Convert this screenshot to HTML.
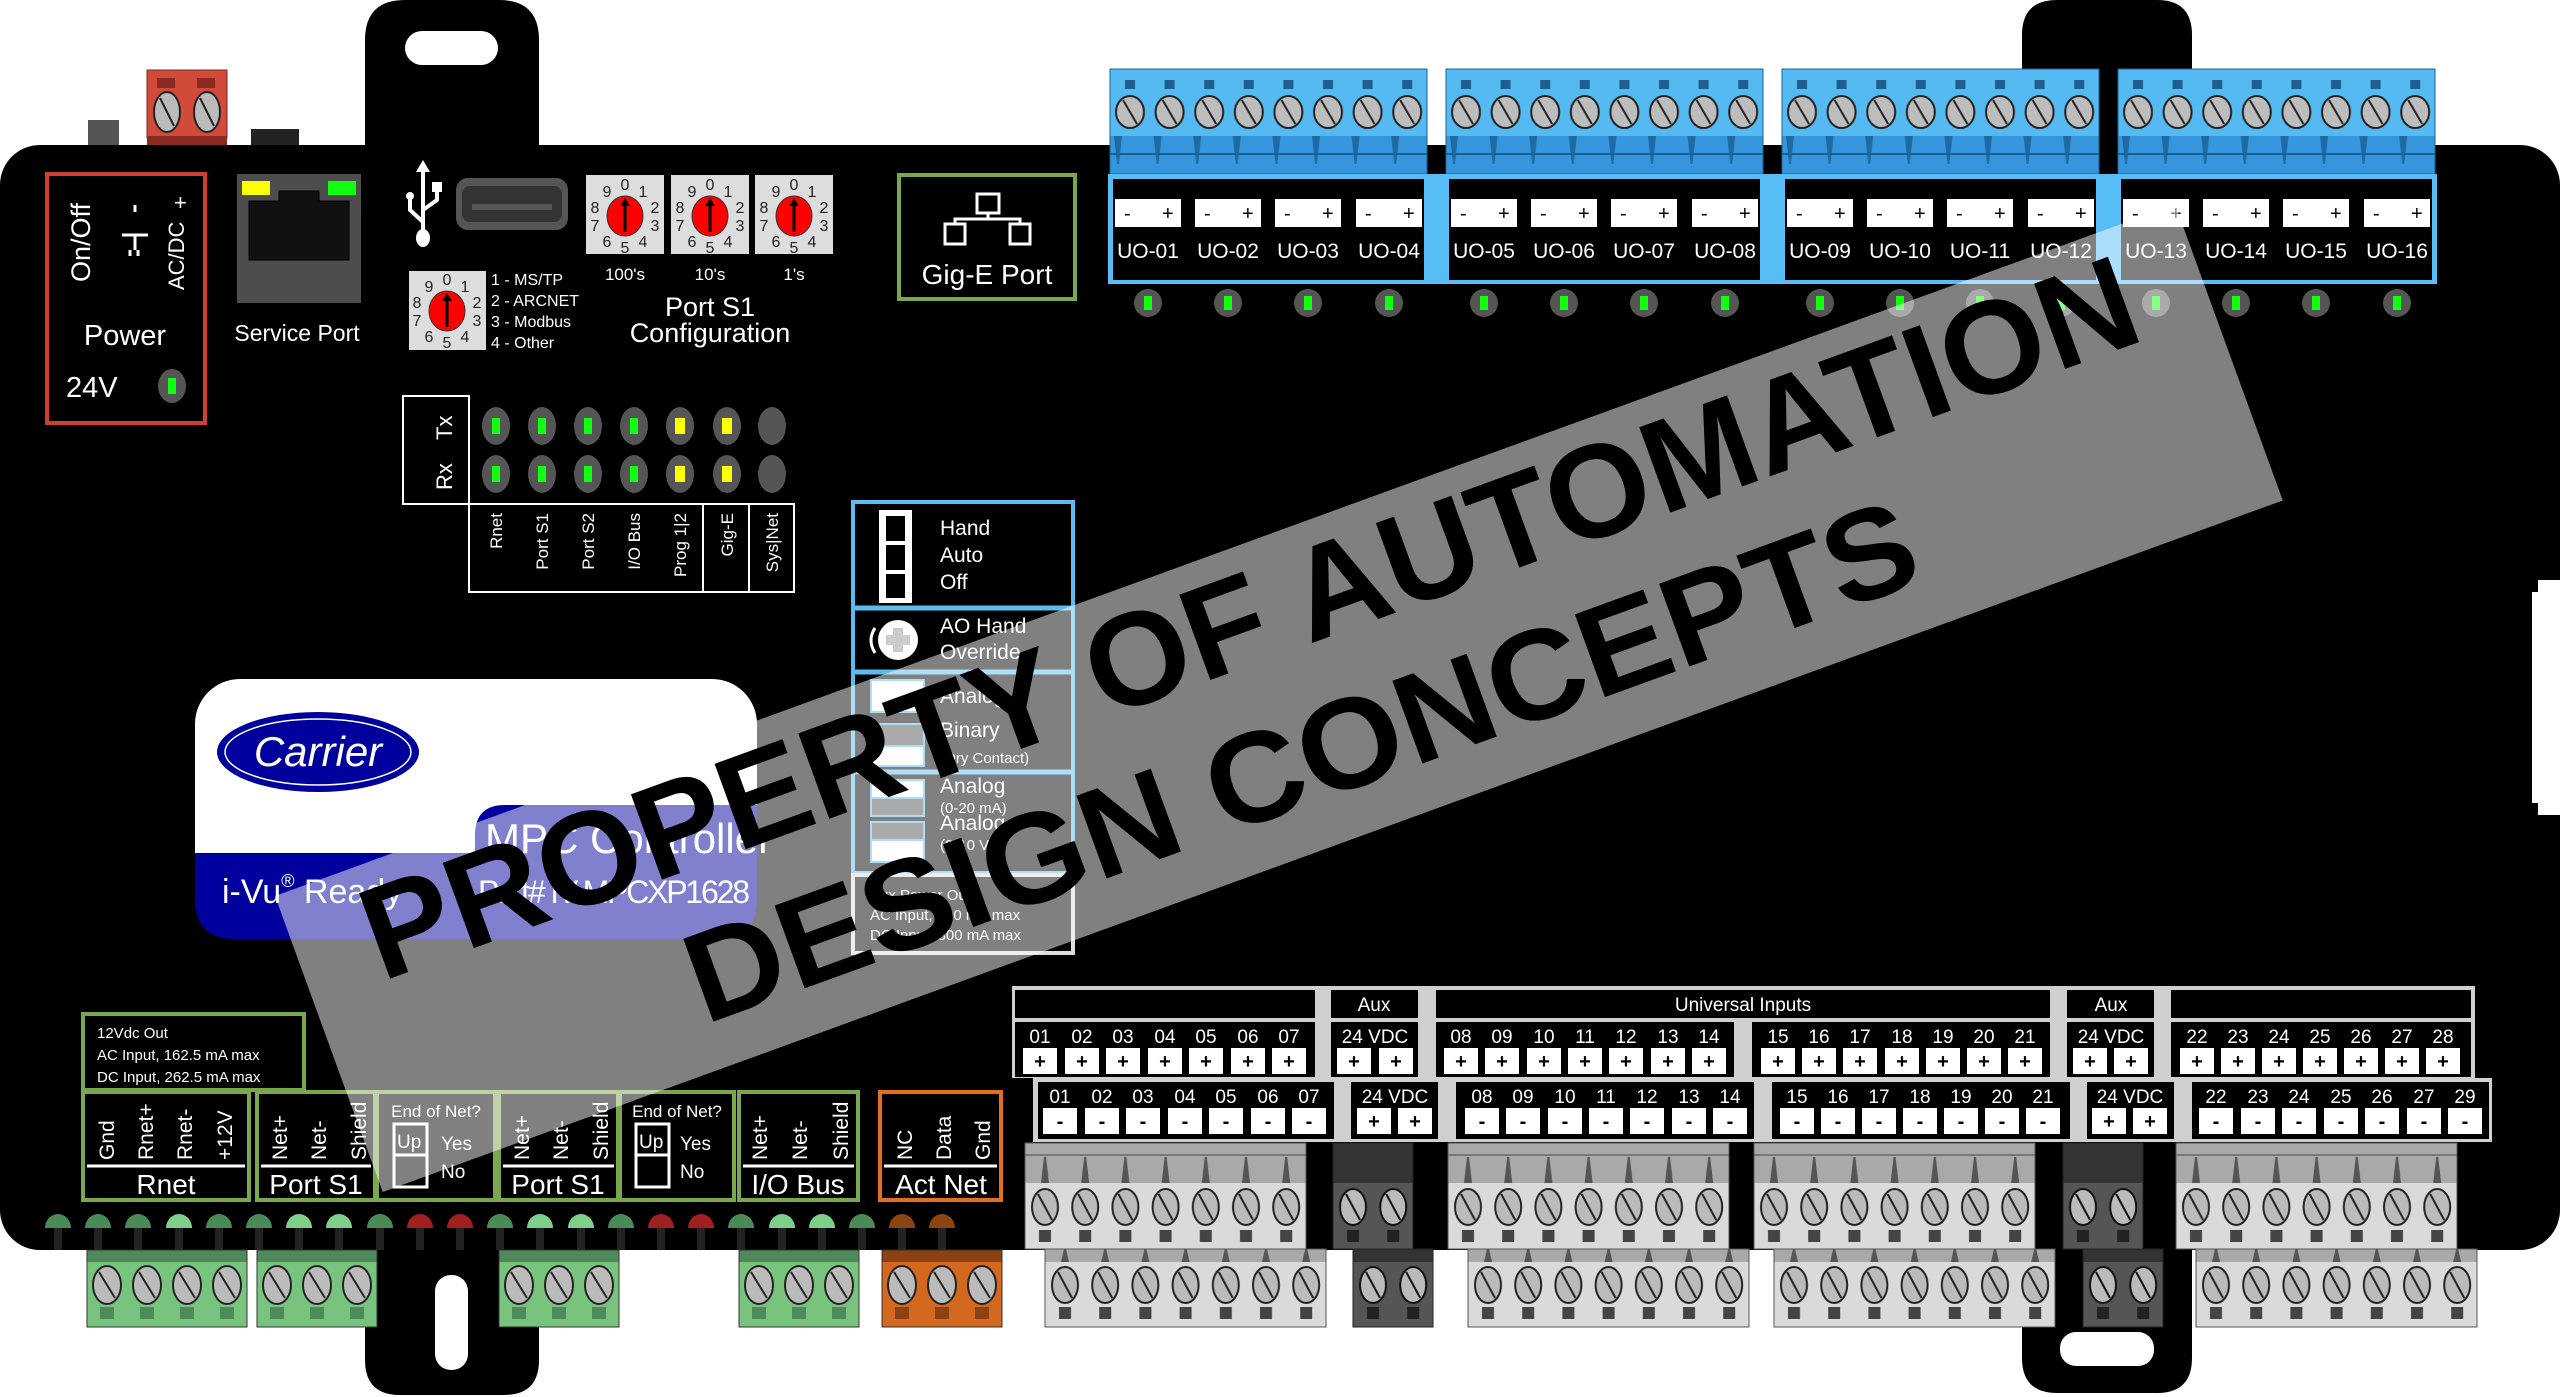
<!DOCTYPE html>
<html><head><meta charset="utf-8"><style>
html,body{margin:0;padding:0;background:#fff;}
svg{display:block;font-family:"Liberation Sans",Arial,sans-serif;}
</style></head><body>
<svg width="2560" height="1397" viewBox="0 0 2560 1397" xmlns="http://www.w3.org/2000/svg">
<defs>
<pattern id="pBlue" patternUnits="userSpaceOnUse" width="39.6" height="105">
<rect x="0" y="0" width="39.6" height="67" fill="#55b9f2"/>
<rect x="15" y="11" width="10" height="9" fill="#1f5f8f"/>
<ellipse cx="20" cy="43" rx="14" ry="16" fill="#bdbdbd" stroke="#222" stroke-width="2"/>
<line x1="13" y1="31" x2="27" y2="55" stroke="#222" stroke-width="2"/>
<rect x="0" y="67" width="39.6" height="38" fill="#3596dd"/>
<path d="M4 67 L12 67 L9 95 L7 95Z" fill="#1e6aa5"/>
<line x1="0" y1="85" x2="39.6" y2="85" stroke="#1e5f90" stroke-width="2"/>
</pattern>
<pattern id="pGU" patternUnits="userSpaceOnUse" width="40.2" height="106">
<rect width="40.2" height="40" fill="#a9a9a9"/>
<path d="M16 40 L24 40 L21 14 L19 14Z" fill="#555"/>
<line x1="0" y1="12" x2="40.2" y2="12" stroke="#777" stroke-width="2"/>
<rect y="40" width="40.2" height="66" fill="#dadada"/>
<ellipse cx="20" cy="64" rx="13" ry="18" fill="#bbb" stroke="#222" stroke-width="2"/>
<line x1="13" y1="51" x2="27" y2="77" stroke="#222" stroke-width="2"/>
<rect x="14" y="87" width="12" height="12" fill="#444"/>
</pattern>
<pattern id="pGL" patternUnits="userSpaceOnUse" width="40.2" height="78">
<rect width="40.2" height="13" fill="#a9a9a9"/>
<path d="M16 13 L24 13 L21 0 L19 0Z" fill="#555"/>
<rect y="13" width="40.2" height="65" fill="#dadada"/>
<ellipse cx="20" cy="36" rx="13" ry="18" fill="#bbb" stroke="#222" stroke-width="2"/>
<line x1="13" y1="23" x2="27" y2="49" stroke="#222" stroke-width="2"/>
<rect x="14" y="58" width="12" height="12" fill="#444"/>
</pattern>
<pattern id="pDU" patternUnits="userSpaceOnUse" width="40.2" height="106">
<rect width="40.2" height="40" fill="#333"/>
<rect y="40" width="40.2" height="66" fill="#555"/>
<ellipse cx="20" cy="64" rx="13" ry="18" fill="#bbb" stroke="#111" stroke-width="2"/>
<line x1="13" y1="51" x2="27" y2="77" stroke="#111" stroke-width="2"/>
<rect x="14" y="87" width="12" height="12" fill="#222"/>
</pattern>
<pattern id="pDL" patternUnits="userSpaceOnUse" width="40.2" height="78">
<rect width="40.2" height="13" fill="#333"/>
<rect y="13" width="40.2" height="65" fill="#555"/>
<ellipse cx="20" cy="36" rx="13" ry="18" fill="#bbb" stroke="#111" stroke-width="2"/>
<line x1="13" y1="23" x2="27" y2="49" stroke="#111" stroke-width="2"/>
<rect x="14" y="58" width="12" height="12" fill="#222"/>
</pattern>
<pattern id="pGreen" patternUnits="userSpaceOnUse" width="40" height="77">
<rect width="40" height="12" fill="#4e8a5a"/>
<rect y="12" width="40" height="65" fill="#78c47f"/>
<ellipse cx="20" cy="35" rx="14" ry="19" fill="#bbb" stroke="#222" stroke-width="2"/>
<line x1="12" y1="22" x2="28" y2="48" stroke="#222" stroke-width="2"/>
<rect x="13" y="57" width="14" height="12" fill="#4e8a5a"/>
</pattern>
<pattern id="pOrange" patternUnits="userSpaceOnUse" width="40" height="77">
<rect width="40" height="12" fill="#8b4210"/>
<rect y="12" width="40" height="65" fill="#d2691e"/>
<ellipse cx="20" cy="35" rx="14" ry="19" fill="#bbb" stroke="#222" stroke-width="2"/>
<line x1="12" y1="22" x2="28" y2="48" stroke="#222" stroke-width="2"/>
<rect x="13" y="57" width="14" height="12" fill="#8b4210"/>
</pattern>
</defs>

<rect width="2560" height="1397" fill="#fff"/>

<!-- tabs -->
<path d="M365,160 V40 Q365,0 405,0 H499 Q539,0 539,40 V160Z" fill="#000"/>
<rect x="405" y="31" width="93" height="34" rx="17" fill="#fff"/>
<path d="M2022,160 V35 Q2022,0 2057,0 H2157 Q2192,0 2192,35 V160Z" fill="#000"/>
<path d="M365,1240 V1360 Q365,1395 400,1395 H504 Q539,1395 539,1360 V1240Z" fill="#000"/>
<rect x="435" y="1275" width="33" height="95" rx="16" fill="#fff"/>
<path d="M2022,1240 V1358 Q2022,1393 2057,1393 H2157 Q2192,1393 2192,1358 V1240Z" fill="#000"/>
<rect x="2060" y="1332" width="94" height="34" rx="16" fill="#fff"/>

<!-- power connector -->
<rect x="88" y="120" width="31" height="26" fill="#555"/>
<rect x="251" y="129" width="48" height="17" fill="#222"/>
<rect x="147" y="70" width="80" height="68" fill="#d24b3a" stroke="#7a2a20" stroke-width="1"/>
<rect x="147" y="136" width="80" height="11" fill="#8a2a22"/>
<rect x="157" y="78" width="18" height="10" fill="#8a2a22"/>
<rect x="197" y="78" width="18" height="10" fill="#8a2a22"/>
<ellipse cx="167" cy="112" rx="13" ry="20" fill="#bbb" stroke="#222" stroke-width="2"/>
<line x1="160" y1="98" x2="174" y2="126" stroke="#222" stroke-width="2"/>
<ellipse cx="207" cy="112" rx="13" ry="20" fill="#bbb" stroke="#222" stroke-width="2"/>
<line x1="200" y1="98" x2="214" y2="126" stroke="#222" stroke-width="2"/>

<!-- body -->
<rect x="0" y="145" width="2560" height="1105" rx="40" fill="#000"/>
<path d="M2538,580 h22 v235 h-22 v-12 h-6 v-211 h6z" fill="#fff"/>

<!-- Power box -->
<rect x="47" y="174" width="158" height="249" fill="none" stroke="#d04030" stroke-width="4"/>
<text transform="translate(90,282) rotate(-90)" fill="#fff" font-size="27">On/Off</text>
<g stroke="#fff" stroke-width="3"><line x1="122" y1="235" x2="148" y2="235"/><line x1="135" y1="235" x2="135" y2="250"/><line x1="130" y1="250" x2="130" y2="256"/><line x1="138" y1="250" x2="138" y2="256"/></g>
<line x1="135" y1="205" x2="135" y2="212" stroke="#fff" stroke-width="3"/>
<text transform="translate(184,290) rotate(-90)" fill="#fff" font-size="22">AC/DC</text>
<text x="174" y="210" fill="#fff" font-size="22">+</text>
<text x="125" y="345" fill="#fff" font-size="29" text-anchor="middle">Power</text>
<text x="66" y="397" fill="#fff" font-size="29">24V</text>
<ellipse cx="172" cy="386" rx="14" ry="17" fill="#555"/>
<rect x="168" y="378" width="8" height="16" fill="#1f1"/>

<!-- Service port -->
<rect x="237" y="174" width="124" height="129" fill="#4d4d4d"/>
<path d="M249,201 h30 v-10 h40 v10 h30 v59 h-100z" fill="#111" stroke="#000"/>
<rect x="242" y="181" width="28" height="14" fill="#ff0"/>
<rect x="328" y="181" width="28" height="14" fill="#1f1"/>
<text x="297" y="341" fill="#fff" font-size="23" text-anchor="middle">Service Port</text>

<!-- USB -->
<g stroke="#fff" stroke-width="4" fill="none">
<line x1="423" y1="172" x2="423" y2="230"/>
<polyline points="423,222 410,210 410,196"/>
<polyline points="423,210 437,200 437,192"/>
</g>
<path d="M423,160 l-7,12 h14z" fill="#fff"/>
<circle cx="410" cy="196" r="4" fill="#fff"/>
<rect x="432" y="182" width="10" height="10" fill="#fff"/>
<ellipse cx="423" cy="238" rx="7" ry="9" fill="#fff"/>
<rect x="456" y="178" width="112" height="52" rx="12" fill="#555"/>
<rect x="462" y="186" width="100" height="36" rx="8" fill="#333"/>
<rect x="472" y="204" width="80" height="6" fill="#555"/>

<!-- Rotary switches -->
<g font-size="16" fill="#222" text-anchor="middle">
<rect x="586" y="175" width="78" height="79" fill="#ddd"/>
<rect x="671" y="175" width="78" height="79" fill="#ddd"/>
<rect x="755" y="175" width="78" height="79" fill="#ddd"/>
<rect x="409" y="271" width="77" height="79" fill="#ddd"/>
<g transform="translate(625,216)"><ellipse rx="18" ry="20" fill="#f00" stroke="#333"/><line x1="0" y1="16" x2="0" y2="-12" stroke="#000" stroke-width="3"/><path d="M0,-18 l-5,8 h10z" fill="#000"/>
<text x="0" y="-26">0</text><text x="18" y="-19">1</text><text x="30" y="-3">2</text><text x="30" y="15">3</text><text x="18" y="31">4</text><text x="0" y="37">5</text><text x="-18" y="31">6</text><text x="-30" y="15">7</text><text x="-30" y="-3">8</text><text x="-18" y="-19">9</text></g>
<g transform="translate(710,216)"><ellipse rx="18" ry="20" fill="#f00" stroke="#333"/><line x1="0" y1="16" x2="0" y2="-12" stroke="#000" stroke-width="3"/><path d="M0,-18 l-5,8 h10z" fill="#000"/>
<text x="0" y="-26">0</text><text x="18" y="-19">1</text><text x="30" y="-3">2</text><text x="30" y="15">3</text><text x="18" y="31">4</text><text x="0" y="37">5</text><text x="-18" y="31">6</text><text x="-30" y="15">7</text><text x="-30" y="-3">8</text><text x="-18" y="-19">9</text></g>
<g transform="translate(794,216)"><ellipse rx="18" ry="20" fill="#f00" stroke="#333"/><line x1="0" y1="16" x2="0" y2="-12" stroke="#000" stroke-width="3"/><path d="M0,-18 l-5,8 h10z" fill="#000"/>
<text x="0" y="-26">0</text><text x="18" y="-19">1</text><text x="30" y="-3">2</text><text x="30" y="15">3</text><text x="18" y="31">4</text><text x="0" y="37">5</text><text x="-18" y="31">6</text><text x="-30" y="15">7</text><text x="-30" y="-3">8</text><text x="-18" y="-19">9</text></g>
<g transform="translate(447,311)"><ellipse rx="18" ry="20" fill="#f00" stroke="#333"/><line x1="0" y1="16" x2="0" y2="-12" stroke="#000" stroke-width="3"/><path d="M0,-18 l-5,8 h10z" fill="#000"/>
<text x="0" y="-26">0</text><text x="18" y="-19">1</text><text x="30" y="-3">2</text><text x="30" y="15">3</text><text x="18" y="31">4</text><text x="0" y="37">5</text><text x="-18" y="31">6</text><text x="-30" y="15">7</text><text x="-30" y="-3">8</text><text x="-18" y="-19">9</text></g>
</g>
<g fill="#fff">
<text x="625" y="280" font-size="17" text-anchor="middle">100's</text>
<text x="710" y="280" font-size="17" text-anchor="middle">10's</text>
<text x="794" y="280" font-size="17" text-anchor="middle">1's</text>
<text x="710" y="316" font-size="27" text-anchor="middle">Port S1</text>
<text x="710" y="342" font-size="27" text-anchor="middle">Configuration</text>
<text x="491" y="285" font-size="16">1 - MS/TP</text>
<text x="491" y="306" font-size="16">2 - ARCNET</text>
<text x="491" y="327" font-size="16">3 - Modbus</text>
<text x="491" y="348" font-size="16">4 - Other</text>
</g>

<!-- Gig-E -->
<rect x="899" y="175" width="176" height="124" fill="none" stroke="#7aa64e" stroke-width="4"/>
<g stroke="#fff" stroke-width="3" fill="none">
<rect x="977" y="194" width="22" height="19"/>
<rect x="945" y="224" width="20" height="20"/>
<rect x="1010" y="224" width="20" height="20"/>
<polyline points="988,213 988,219 955,219 955,224"/>
<polyline points="988,219 1020,219 1020,224"/>
</g>
<text x="987" y="284" fill="#fff" font-size="28" text-anchor="middle">Gig-E Port</text>

<!-- LED status panel -->
<rect x="403" y="396" width="66" height="108" fill="none" stroke="#fff" stroke-width="2"/>
<path d="M469,504 H794 V592 H469 Z M703,504 V592 M749,504 V592" fill="none" stroke="#fff" stroke-width="2"/>
<text transform="translate(452,440) rotate(-90)" fill="#fff" font-size="22">Tx</text>
<text transform="translate(452,490) rotate(-90)" fill="#fff" font-size="22">Rx</text>
<g>
<ellipse cx="496" cy="426" rx="14" ry="19" fill="#555"/><ellipse cx="542" cy="426" rx="14" ry="19" fill="#555"/><ellipse cx="588" cy="426" rx="14" ry="19" fill="#555"/><ellipse cx="634" cy="426" rx="14" ry="19" fill="#555"/><ellipse cx="680" cy="426" rx="14" ry="19" fill="#555"/><ellipse cx="727" cy="426" rx="14" ry="19" fill="#555"/><ellipse cx="772" cy="426" rx="14" ry="19" fill="#555"/>
<ellipse cx="496" cy="474" rx="14" ry="19" fill="#555"/><ellipse cx="542" cy="474" rx="14" ry="19" fill="#555"/><ellipse cx="588" cy="474" rx="14" ry="19" fill="#555"/><ellipse cx="634" cy="474" rx="14" ry="19" fill="#555"/><ellipse cx="680" cy="474" rx="14" ry="19" fill="#555"/><ellipse cx="727" cy="474" rx="14" ry="19" fill="#555"/><ellipse cx="772" cy="474" rx="14" ry="19" fill="#555"/>
<g fill="#1f1"><rect x="492" y="418" width="8" height="16"/><rect x="538" y="418" width="8" height="16"/><rect x="584" y="418" width="8" height="16"/><rect x="630" y="418" width="8" height="16"/>
<rect x="492" y="466" width="8" height="16"/><rect x="538" y="466" width="8" height="16"/><rect x="584" y="466" width="8" height="16"/><rect x="630" y="466" width="8" height="16"/></g>
<g fill="#ff0"><rect x="675" y="418" width="10" height="16"/><rect x="722" y="418" width="10" height="16"/><rect x="675" y="466" width="10" height="16"/><rect x="722" y="466" width="10" height="16"/></g>
</g>
<g fill="#fff" font-size="17" text-anchor="end">
<text transform="translate(502,513) rotate(-90)">Rnet</text>
<text transform="translate(548,513) rotate(-90)">Port S1</text>
<text transform="translate(594,513) rotate(-90)">Port S2</text>
<text transform="translate(640,513) rotate(-90)">I/O Bus</text>
<text transform="translate(686,513) rotate(-90)">Prog 1|2</text>
<text transform="translate(733,513) rotate(-90)">Gig-E</text>
<text transform="translate(778,513) rotate(-90)">Sys|Net</text>
</g>

<!-- Mode panel -->
<rect x="853" y="502" width="220" height="371" fill="none" stroke="#5bbcf0" stroke-width="4"/>
<line x1="853" y1="608" x2="1073" y2="608" stroke="#5bbcf0" stroke-width="5"/>
<line x1="853" y1="672" x2="1073" y2="672" stroke="#5bbcf0" stroke-width="5"/>
<line x1="853" y1="772" x2="1073" y2="772" stroke="#5bbcf0" stroke-width="5"/>
<rect x="879" y="510" width="33" height="93" fill="#fff"/>
<rect x="886" y="516" width="19" height="25" fill="#000"/><rect x="886" y="545" width="19" height="25" fill="#000"/><rect x="886" y="574" width="19" height="24" fill="#000"/>
<g fill="#fff" font-size="21">
<text x="940" y="535">Hand</text><text x="940" y="562">Auto</text><text x="940" y="589">Off</text>
<text x="940" y="633">AO Hand</text><text x="940" y="659">Override</text>
<text x="940" y="703">Analog</text><text x="940" y="737">Binary</text>
<text x="940" y="793">Analog</text><text x="940" y="830">Analog</text>
</g>
<g fill="#fff" font-size="15"><text x="940" y="763">(Dry Contact)</text><text x="940" y="813">(0-20 mA)</text><text x="940" y="850">(0-10 V)</text></g>
<circle cx="898" cy="640" r="20" fill="#fff"/>
<path d="M893,628 h10 v7 h7 v10 h-7 v7 h-10 v-7 h-7 v-10 h7z" fill="#ccc"/>
<path d="M875,628 q-8,12 0,25" stroke="#fff" stroke-width="3" fill="none"/>
<rect x="871" y="680" width="53" height="32" fill="#fff" stroke="#5bbcf0" stroke-width="2"/>
<rect x="871" y="724" width="53" height="22" fill="#555" stroke="#5bbcf0" stroke-width="2"/>
<rect x="871" y="746" width="53" height="20" fill="#fff" stroke="#5bbcf0" stroke-width="2"/>
<rect x="871" y="780" width="53" height="18" fill="#fff" stroke="#5bbcf0" stroke-width="2"/>
<rect x="871" y="798" width="53" height="18" fill="#555" stroke="#5bbcf0" stroke-width="2"/>
<rect x="871" y="822" width="53" height="18" fill="#555" stroke="#5bbcf0" stroke-width="2"/>
<rect x="871" y="840" width="53" height="22" fill="#fff" stroke="#5bbcf0" stroke-width="2"/>
<rect x="853" y="875" width="220" height="78" fill="none" stroke="#ddd" stroke-width="4"/>
<g fill="#fff" font-size="15"><text x="870" y="900">Aux Power Out</text><text x="870" y="920">AC Input, 300 mA max</text><text x="870" y="940">DC Input, 300 mA max</text></g>

<!-- Carrier label -->
<rect x="195" y="679" width="562" height="260" rx="45" fill="#fff"/>
<path d="M195,853 H475 V835 Q475,805 505,805 H757 V899 Q757,939 717,939 H235 Q195,939 195,899 Z" fill="#00009c"/>
<ellipse cx="318" cy="752" rx="101" ry="40" fill="#00009c"/>
<ellipse cx="318" cy="752" rx="93" ry="33" fill="none" stroke="#fff" stroke-width="1.5"/>
<text x="318" y="766" fill="#fff" font-size="42" font-style="italic" text-anchor="middle">Carrier</text>
<text x="485" y="853" fill="#fff" font-size="42">MPC Controller</text>
<text x="222" y="903" fill="#fff" font-size="34">i-Vu<tspan font-size="18" dy="-16">®</tspan><tspan dy="16"> Ready</tspan></text>
<text x="478" y="903" fill="#fff" font-size="32" textLength="272">Part# IV-MPCXP1628</text>

<!-- Info box -->
<rect x="83" y="1014" width="221" height="76" fill="none" stroke="#7aa64e" stroke-width="4"/>
<g fill="#fff" font-size="15"><text x="97" y="1038">12Vdc Out</text><text x="97" y="1060">AC Input, 162.5 mA max</text><text x="97" y="1082">DC Input, 262.5 mA max</text></g>

<!-- bottom label boxes -->
<g fill="#000" stroke="#7aa64e" stroke-width="4">
<rect x="83" y="1092" width="166" height="108"/>
<rect x="257" y="1092" width="118" height="108"/>
<rect x="377" y="1092" width="118" height="108"/>
<rect x="499" y="1092" width="119" height="108"/>
<rect x="620" y="1092" width="114" height="108"/>
<rect x="739" y="1092" width="119" height="108"/>
</g>
<rect x="880" y="1092" width="121" height="108" fill="#000" stroke="#e07020" stroke-width="4"/>
<g stroke="#fff" stroke-width="3">
<line x1="87" y1="1166" x2="245" y2="1166"/><line x1="261" y1="1166" x2="371" y2="1166"/><line x1="503" y1="1166" x2="614" y2="1166"/><line x1="743" y1="1166" x2="854" y2="1166"/><line x1="884" y1="1166" x2="997" y2="1166"/>
</g>
<g fill="#fff" font-size="21">
<text transform="translate(114,1160) rotate(-90)">Gnd</text>
<text transform="translate(153,1160) rotate(-90)">Rnet+</text>
<text transform="translate(192,1160) rotate(-90)">Rnet-</text>
<text transform="translate(232,1160) rotate(-90)">+12V</text>
<text transform="translate(287,1160) rotate(-90)">Net+</text>
<text transform="translate(326,1160) rotate(-90)">Net-</text>
<text transform="translate(366,1160) rotate(-90)">Shield</text>
<text transform="translate(529,1160) rotate(-90)">Net+</text>
<text transform="translate(568,1160) rotate(-90)">Net-</text>
<text transform="translate(608,1160) rotate(-90)">Shield</text>
<text transform="translate(767,1160) rotate(-90)">Net+</text>
<text transform="translate(807,1160) rotate(-90)">Net-</text>
<text transform="translate(848,1160) rotate(-90)">Shield</text>
<text transform="translate(912,1160) rotate(-90)">NC</text>
<text transform="translate(951,1160) rotate(-90)">Data</text>
<text transform="translate(990,1160) rotate(-90)">Gnd</text>
</g>
<g fill="#fff" font-size="28" text-anchor="middle">
<text x="166" y="1194">Rnet</text><text x="316" y="1194">Port S1</text><text x="558" y="1194">Port S1</text><text x="798" y="1194">I/O Bus</text><text x="941" y="1194">Act Net</text>
</g>
<g fill="#fff" font-size="17"><text x="436" y="1117" text-anchor="middle">End of Net?</text><text x="677" y="1117" text-anchor="middle">End of Net?</text>
<text x="441" y="1150" font-size="19">Yes</text><text x="441" y="1178" font-size="19">No</text>
<text x="680" y="1150" font-size="19">Yes</text><text x="680" y="1178" font-size="19">No</text></g>
<g fill="none" stroke="#fff" stroke-width="3"><rect x="394" y="1124" width="33" height="63"/><line x1="394" y1="1155" x2="427" y2="1155"/><rect x="636" y="1124" width="33" height="63"/><line x1="636" y1="1155" x2="669" y2="1155"/></g>
<g fill="#fff" font-size="19"><text x="397" y="1148">Up</text><text x="639" y="1148">Up</text></g>

<!-- bottom LEDs -->
<g fill="#222">
<rect x="54" y="1226" width="8" height="24"/><rect x="94" y="1226" width="8" height="24"/><rect x="134" y="1226" width="8" height="24"/><rect x="175" y="1226" width="8" height="24"/><rect x="215" y="1226" width="8" height="24"/><rect x="255" y="1226" width="8" height="24"/><rect x="295" y="1226" width="8" height="24"/><rect x="335" y="1226" width="8" height="24"/><rect x="376" y="1226" width="8" height="24"/><rect x="416" y="1226" width="8" height="24"/><rect x="456" y="1226" width="8" height="24"/><rect x="496" y="1226" width="8" height="24"/><rect x="536" y="1226" width="8" height="24"/><rect x="577" y="1226" width="8" height="24"/><rect x="617" y="1226" width="8" height="24"/><rect x="657" y="1226" width="8" height="24"/><rect x="697" y="1226" width="8" height="24"/><rect x="737" y="1226" width="8" height="24"/><rect x="778" y="1226" width="8" height="24"/><rect x="818" y="1226" width="8" height="24"/><rect x="858" y="1226" width="8" height="24"/><rect x="898" y="1226" width="8" height="24"/><rect x="938" y="1226" width="8" height="24"/>
</g>
<g>
<path d="M45,1228 a13,14 0 0 1 26,0z" fill="#4a8a57"/><path d="M85,1228 a13,14 0 0 1 26,0z" fill="#4a8a57"/><path d="M125,1228 a13,14 0 0 1 26,0z" fill="#4a8a57"/><path d="M166,1228 a13,14 0 0 1 26,0z" fill="#7dcf8a"/><path d="M206,1228 a13,14 0 0 1 26,0z" fill="#4a8a57"/><path d="M246,1228 a13,14 0 0 1 26,0z" fill="#4a8a57"/><path d="M286,1228 a13,14 0 0 1 26,0z" fill="#7dcf8a"/><path d="M326,1228 a13,14 0 0 1 26,0z" fill="#7dcf8a"/><path d="M367,1228 a13,14 0 0 1 26,0z" fill="#4a8a57"/><path d="M407,1228 a13,14 0 0 1 26,0z" fill="#a01f1f"/><path d="M447,1228 a13,14 0 0 1 26,0z" fill="#a01f1f"/><path d="M487,1228 a13,14 0 0 1 26,0z" fill="#4a8a57"/><path d="M527,1228 a13,14 0 0 1 26,0z" fill="#7dcf8a"/><path d="M568,1228 a13,14 0 0 1 26,0z" fill="#7dcf8a"/><path d="M608,1228 a13,14 0 0 1 26,0z" fill="#4a8a57"/><path d="M648,1228 a13,14 0 0 1 26,0z" fill="#a01f1f"/><path d="M688,1228 a13,14 0 0 1 26,0z" fill="#a01f1f"/><path d="M728,1228 a13,14 0 0 1 26,0z" fill="#4a8a57"/><path d="M769,1228 a13,14 0 0 1 26,0z" fill="#7dcf8a"/><path d="M809,1228 a13,14 0 0 1 26,0z" fill="#7dcf8a"/><path d="M849,1228 a13,14 0 0 1 26,0z" fill="#4a8a57"/><path d="M889,1228 a13,14 0 0 1 26,0z" fill="#8b4513"/><path d="M929,1228 a13,14 0 0 1 26,0z" fill="#8b4513"/>
</g>

<!-- bottom green / orange connectors -->
<g transform="translate(87,1250)"><rect width="160" height="77" fill="url(#pGreen)" stroke="#333"/></g>
<g transform="translate(257,1250)"><rect width="120" height="77" fill="url(#pGreen)" stroke="#333"/></g>
<g transform="translate(499,1250)"><rect width="120" height="77" fill="url(#pGreen)" stroke="#333"/></g>
<g transform="translate(739,1250)"><rect width="120" height="77" fill="url(#pGreen)" stroke="#333"/></g>
<g transform="translate(882,1250)"><rect width="120" height="77" fill="url(#pOrange)" stroke="#333"/></g>

<!-- top blue UO terminal blocks -->
<g transform="translate(1110,69)"><rect width="317" height="105" fill="url(#pBlue)" stroke="#1e5f90"/></g>
<g transform="translate(1446,69)"><rect width="317" height="105" fill="url(#pBlue)" stroke="#1e5f90"/></g>
<g transform="translate(1782,69)"><rect width="317" height="105" fill="url(#pBlue)" stroke="#1e5f90"/></g>
<g transform="translate(2118,69)"><rect width="317" height="105" fill="url(#pBlue)" stroke="#1e5f90"/></g>
<rect x="1108" y="174" width="1329" height="110" fill="#56bdf5"/>
<rect x="1113" y="179" width="311" height="101" fill="#000"/>
<rect x="1449" y="179" width="311" height="101" fill="#000"/>
<rect x="1785" y="179" width="311" height="101" fill="#000"/>
<rect x="2121" y="179" width="311" height="101" fill="#000"/>
<g fill="#fff">
<rect x="1115" y="199" width="66" height="28"/><rect x="1195" y="199" width="66" height="28"/><rect x="1275" y="199" width="66" height="28"/><rect x="1356" y="199" width="66" height="28"/>
<rect x="1451" y="199" width="66" height="28"/><rect x="1531" y="199" width="66" height="28"/><rect x="1611" y="199" width="66" height="28"/><rect x="1692" y="199" width="66" height="28"/>
<rect x="1787" y="199" width="66" height="28"/><rect x="1867" y="199" width="66" height="28"/><rect x="1947" y="199" width="66" height="28"/><rect x="2028" y="199" width="66" height="28"/>
<rect x="2123" y="199" width="66" height="28"/><rect x="2203" y="199" width="66" height="28"/><rect x="2283" y="199" width="66" height="28"/><rect x="2364" y="199" width="66" height="28"/>
</g>
<g font-size="20" fill="#000">
<text x="1124" y="220">-</text><text x="1162" y="220">+</text><text x="1204" y="220">-</text><text x="1242" y="220">+</text><text x="1284" y="220">-</text><text x="1322" y="220">+</text><text x="1365" y="220">-</text><text x="1403" y="220">+</text>
<text x="1460" y="220">-</text><text x="1498" y="220">+</text><text x="1540" y="220">-</text><text x="1578" y="220">+</text><text x="1620" y="220">-</text><text x="1658" y="220">+</text><text x="1701" y="220">-</text><text x="1739" y="220">+</text>
<text x="1796" y="220">-</text><text x="1834" y="220">+</text><text x="1876" y="220">-</text><text x="1914" y="220">+</text><text x="1956" y="220">-</text><text x="1994" y="220">+</text><text x="2037" y="220">-</text><text x="2075" y="220">+</text>
<text x="2132" y="220">-</text><text x="2170" y="220">+</text><text x="2212" y="220">-</text><text x="2250" y="220">+</text><text x="2292" y="220">-</text><text x="2330" y="220">+</text><text x="2373" y="220">-</text><text x="2411" y="220">+</text>
</g>
<g font-size="21" fill="#fff" text-anchor="middle">
<text x="1148" y="258">UO-01</text><text x="1228" y="258">UO-02</text><text x="1308" y="258">UO-03</text><text x="1389" y="258">UO-04</text>
<text x="1484" y="258">UO-05</text><text x="1564" y="258">UO-06</text><text x="1644" y="258">UO-07</text><text x="1725" y="258">UO-08</text>
<text x="1820" y="258">UO-09</text><text x="1900" y="258">UO-10</text><text x="1980" y="258">UO-11</text><text x="2061" y="258">UO-12</text>
<text x="2156" y="258">UO-13</text><text x="2236" y="258">UO-14</text><text x="2316" y="258">UO-15</text><text x="2397" y="258">UO-16</text>
</g>
<g fill="#555">
<ellipse cx="1148" cy="303" rx="14" ry="14"/><ellipse cx="1228" cy="303" rx="14" ry="14"/><ellipse cx="1308" cy="303" rx="14" ry="14"/><ellipse cx="1389" cy="303" rx="14" ry="14"/>
<ellipse cx="1484" cy="303" rx="14" ry="14"/><ellipse cx="1564" cy="303" rx="14" ry="14"/><ellipse cx="1644" cy="303" rx="14" ry="14"/><ellipse cx="1725" cy="303" rx="14" ry="14"/>
<ellipse cx="1820" cy="303" rx="14" ry="14"/><ellipse cx="1900" cy="303" rx="14" ry="14"/><ellipse cx="1980" cy="303" rx="14" ry="14"/><ellipse cx="2061" cy="303" rx="14" ry="14"/>
<ellipse cx="2156" cy="303" rx="14" ry="14"/><ellipse cx="2236" cy="303" rx="14" ry="14"/><ellipse cx="2316" cy="303" rx="14" ry="14"/><ellipse cx="2397" cy="303" rx="14" ry="14"/>
</g>
<g fill="#1f1">
<rect x="1144" y="296" width="8" height="14"/><rect x="1224" y="296" width="8" height="14"/><rect x="1304" y="296" width="8" height="14"/><rect x="1385" y="296" width="8" height="14"/>
<rect x="1480" y="296" width="8" height="14"/><rect x="1560" y="296" width="8" height="14"/><rect x="1640" y="296" width="8" height="14"/><rect x="1721" y="296" width="8" height="14"/>
<rect x="1816" y="296" width="8" height="14"/><rect x="1896" y="296" width="8" height="14"/><rect x="1976" y="296" width="8" height="14"/><rect x="2057" y="296" width="8" height="14"/>
<rect x="2152" y="296" width="8" height="14"/><rect x="2232" y="296" width="8" height="14"/><rect x="2312" y="296" width="8" height="14"/><rect x="2393" y="296" width="8" height="14"/>
</g>

<!-- gray terminal blocks (lower tier first) -->
<g transform="translate(1045,1249)"><rect width="281" height="78" fill="url(#pGL)" stroke="#555"/></g>
<g transform="translate(1353,1249)"><rect width="80" height="78" fill="url(#pDL)" stroke="#222"/></g>
<g transform="translate(1468,1249)"><rect width="281" height="78" fill="url(#pGL)" stroke="#555"/></g>
<g transform="translate(1774,1249)"><rect width="281" height="78" fill="url(#pGL)" stroke="#555"/></g>
<g transform="translate(2083,1249)"><rect width="80" height="78" fill="url(#pDL)" stroke="#222"/></g>
<g transform="translate(2196,1249)"><rect width="281" height="78" fill="url(#pGL)" stroke="#555"/></g>
<g transform="translate(1025,1143)"><rect width="281" height="106" fill="url(#pGU)" stroke="#555"/></g>
<g transform="translate(1333,1143)"><rect width="80" height="106" fill="url(#pDU)" stroke="#222"/></g>
<g transform="translate(1448,1143)"><rect width="281" height="106" fill="url(#pGU)" stroke="#555"/></g>
<g transform="translate(1754,1143)"><rect width="281" height="106" fill="url(#pGU)" stroke="#555"/></g>
<g transform="translate(2063,1143)"><rect width="80" height="106" fill="url(#pDU)" stroke="#222"/></g>
<g transform="translate(2176,1143)"><rect width="281" height="106" fill="url(#pGU)" stroke="#555"/></g>

<!-- gray header -->
<rect x="1012" y="986" width="1463" height="92" fill="#cfcfcf"/>
<rect x="1033" y="1078" width="1459" height="64" fill="#cfcfcf"/>
<g fill="#000">
<rect x="1015" y="990" width="300" height="28"/><rect x="1331" y="990" width="87" height="28"/><rect x="1436" y="990" width="614" height="28"/><rect x="2067" y="990" width="87" height="28"/><rect x="2171" y="990" width="300" height="28"/>
<rect x="1015" y="1022" width="300" height="55"/><rect x="1331" y="1022" width="87" height="55"/><rect x="1436" y="1022" width="298" height="55"/><rect x="1752" y="1022" width="298" height="55"/><rect x="2067" y="1022" width="87" height="55"/><rect x="2171" y="1022" width="300" height="55"/>
<rect x="1038" y="1082" width="296" height="57"/><rect x="1351" y="1082" width="87" height="57"/><rect x="1456" y="1082" width="298" height="57"/><rect x="1772" y="1082" width="298" height="57"/><rect x="2087" y="1082" width="87" height="57"/><rect x="2192" y="1082" width="297" height="57"/>
</g>
<g fill="#fff" font-size="19" text-anchor="middle">
<text x="1374" y="1011">Aux</text><text x="1743" y="1011">Universal Inputs</text><text x="2111" y="1011">Aux</text>
<text x="1040" y="1043">01</text><text x="1082" y="1043">02</text><text x="1123" y="1043">03</text><text x="1165" y="1043">04</text><text x="1206" y="1043">05</text><text x="1248" y="1043">06</text><text x="1289" y="1043">07</text>
<text x="1375" y="1043">24 VDC</text>
<text x="1461" y="1043">08</text><text x="1502" y="1043">09</text><text x="1544" y="1043">10</text><text x="1585" y="1043">11</text><text x="1626" y="1043">12</text><text x="1668" y="1043">13</text><text x="1709" y="1043">14</text>
<text x="1778" y="1043">15</text><text x="1819" y="1043">16</text><text x="1860" y="1043">17</text><text x="1902" y="1043">18</text><text x="1943" y="1043">19</text><text x="1984" y="1043">20</text><text x="2025" y="1043">21</text>
<text x="2111" y="1043">24 VDC</text>
<text x="2197" y="1043">22</text><text x="2238" y="1043">23</text><text x="2279" y="1043">24</text><text x="2320" y="1043">25</text><text x="2361" y="1043">26</text><text x="2402" y="1043">27</text><text x="2443" y="1043">28</text>
<text x="1060" y="1103">01</text><text x="1102" y="1103">02</text><text x="1143" y="1103">03</text><text x="1185" y="1103">04</text><text x="1226" y="1103">05</text><text x="1268" y="1103">06</text><text x="1309" y="1103">07</text>
<text x="1395" y="1103">24 VDC</text>
<text x="1482" y="1103">08</text><text x="1523" y="1103">09</text><text x="1565" y="1103">10</text><text x="1606" y="1103">11</text><text x="1647" y="1103">12</text><text x="1689" y="1103">13</text><text x="1730" y="1103">14</text>
<text x="1797" y="1103">15</text><text x="1838" y="1103">16</text><text x="1879" y="1103">17</text><text x="1920" y="1103">18</text><text x="1961" y="1103">19</text><text x="2002" y="1103">20</text><text x="2043" y="1103">21</text>
<text x="2130" y="1103">24 VDC</text>
<text x="2216" y="1103">22</text><text x="2258" y="1103">23</text><text x="2299" y="1103">24</text><text x="2341" y="1103">25</text><text x="2382" y="1103">26</text><text x="2424" y="1103">27</text><text x="2465" y="1103">29</text>
</g>
<g fill="#fff">
<rect x="1023" y="1048" width="34" height="26"/><rect x="1065" y="1048" width="34" height="26"/><rect x="1106" y="1048" width="34" height="26"/><rect x="1148" y="1048" width="34" height="26"/><rect x="1189" y="1048" width="34" height="26"/><rect x="1231" y="1048" width="34" height="26"/><rect x="1272" y="1048" width="34" height="26"/>
<rect x="1337" y="1048" width="34" height="26"/><rect x="1379" y="1048" width="34" height="26"/>
<rect x="1444" y="1048" width="34" height="26"/><rect x="1485" y="1048" width="34" height="26"/><rect x="1527" y="1048" width="34" height="26"/><rect x="1568" y="1048" width="34" height="26"/><rect x="1609" y="1048" width="34" height="26"/><rect x="1651" y="1048" width="34" height="26"/><rect x="1692" y="1048" width="34" height="26"/>
<rect x="1761" y="1048" width="34" height="26"/><rect x="1802" y="1048" width="34" height="26"/><rect x="1843" y="1048" width="34" height="26"/><rect x="1885" y="1048" width="34" height="26"/><rect x="1926" y="1048" width="34" height="26"/><rect x="1967" y="1048" width="34" height="26"/><rect x="2008" y="1048" width="34" height="26"/>
<rect x="2073" y="1048" width="34" height="26"/><rect x="2114" y="1048" width="34" height="26"/>
<rect x="2180" y="1048" width="34" height="26"/><rect x="2221" y="1048" width="34" height="26"/><rect x="2262" y="1048" width="34" height="26"/><rect x="2303" y="1048" width="34" height="26"/><rect x="2344" y="1048" width="34" height="26"/><rect x="2385" y="1048" width="34" height="26"/><rect x="2426" y="1048" width="34" height="26"/>
<rect x="1043" y="1108" width="34" height="26"/><rect x="1085" y="1108" width="34" height="26"/><rect x="1126" y="1108" width="34" height="26"/><rect x="1168" y="1108" width="34" height="26"/><rect x="1209" y="1108" width="34" height="26"/><rect x="1251" y="1108" width="34" height="26"/><rect x="1292" y="1108" width="34" height="26"/>
<rect x="1357" y="1108" width="34" height="26"/><rect x="1398" y="1108" width="34" height="26"/>
<rect x="1465" y="1108" width="34" height="26"/><rect x="1506" y="1108" width="34" height="26"/><rect x="1548" y="1108" width="34" height="26"/><rect x="1589" y="1108" width="34" height="26"/><rect x="1630" y="1108" width="34" height="26"/><rect x="1672" y="1108" width="34" height="26"/><rect x="1713" y="1108" width="34" height="26"/>
<rect x="1780" y="1108" width="34" height="26"/><rect x="1821" y="1108" width="34" height="26"/><rect x="1862" y="1108" width="34" height="26"/><rect x="1903" y="1108" width="34" height="26"/><rect x="1944" y="1108" width="34" height="26"/><rect x="1985" y="1108" width="34" height="26"/><rect x="2026" y="1108" width="34" height="26"/>
<rect x="2092" y="1108" width="34" height="26"/><rect x="2133" y="1108" width="34" height="26"/>
<rect x="2199" y="1108" width="34" height="26"/><rect x="2241" y="1108" width="34" height="26"/><rect x="2282" y="1108" width="34" height="26"/><rect x="2324" y="1108" width="34" height="26"/><rect x="2365" y="1108" width="34" height="26"/><rect x="2407" y="1108" width="34" height="26"/><rect x="2448" y="1108" width="34" height="26"/>
</g>
<g fill="#000" font-size="20" font-weight="bold" text-anchor="middle">
<text x="1040" y="1068">+</text><text x="1082" y="1068">+</text><text x="1123" y="1068">+</text><text x="1165" y="1068">+</text><text x="1206" y="1068">+</text><text x="1248" y="1068">+</text><text x="1289" y="1068">+</text>
<text x="1354" y="1068">+</text><text x="1396" y="1068">+</text>
<text x="1461" y="1068">+</text><text x="1502" y="1068">+</text><text x="1544" y="1068">+</text><text x="1585" y="1068">+</text><text x="1626" y="1068">+</text><text x="1668" y="1068">+</text><text x="1709" y="1068">+</text>
<text x="1778" y="1068">+</text><text x="1819" y="1068">+</text><text x="1860" y="1068">+</text><text x="1902" y="1068">+</text><text x="1943" y="1068">+</text><text x="1984" y="1068">+</text><text x="2025" y="1068">+</text>
<text x="2090" y="1068">+</text><text x="2131" y="1068">+</text>
<text x="2197" y="1068">+</text><text x="2238" y="1068">+</text><text x="2279" y="1068">+</text><text x="2320" y="1068">+</text><text x="2361" y="1068">+</text><text x="2402" y="1068">+</text><text x="2443" y="1068">+</text>
<text x="1060" y="1128">-</text><text x="1102" y="1128">-</text><text x="1143" y="1128">-</text><text x="1185" y="1128">-</text><text x="1226" y="1128">-</text><text x="1268" y="1128">-</text><text x="1309" y="1128">-</text>
<text x="1374" y="1128">+</text><text x="1415" y="1128">+</text>
<text x="1482" y="1128">-</text><text x="1523" y="1128">-</text><text x="1565" y="1128">-</text><text x="1606" y="1128">-</text><text x="1647" y="1128">-</text><text x="1689" y="1128">-</text><text x="1730" y="1128">-</text>
<text x="1797" y="1128">-</text><text x="1838" y="1128">-</text><text x="1879" y="1128">-</text><text x="1920" y="1128">-</text><text x="1961" y="1128">-</text><text x="2002" y="1128">-</text><text x="2043" y="1128">-</text>
<text x="2109" y="1128">+</text><text x="2150" y="1128">+</text>
<text x="2216" y="1128">-</text><text x="2258" y="1128">-</text><text x="2299" y="1128">-</text><text x="2341" y="1128">-</text><text x="2382" y="1128">-</text><text x="2424" y="1128">-</text><text x="2465" y="1128">-</text>
</g>

<!-- watermark -->
<g transform="translate(275,896) rotate(-20)">
<rect x="0" y="0" width="2022" height="315" fill="#fff" fill-opacity="0.5"/>
<text x="71" y="117" font-size="132" font-weight="bold" fill="#000" textLength="1879" lengthAdjust="spacingAndGlyphs">PROPERTY OF AUTOMATION</text>
<text x="360" y="268" font-size="128" font-weight="bold" fill="#000" textLength="1300" lengthAdjust="spacingAndGlyphs">DESIGN CONCEPTS</text>
</g>
</svg>
</body></html>
